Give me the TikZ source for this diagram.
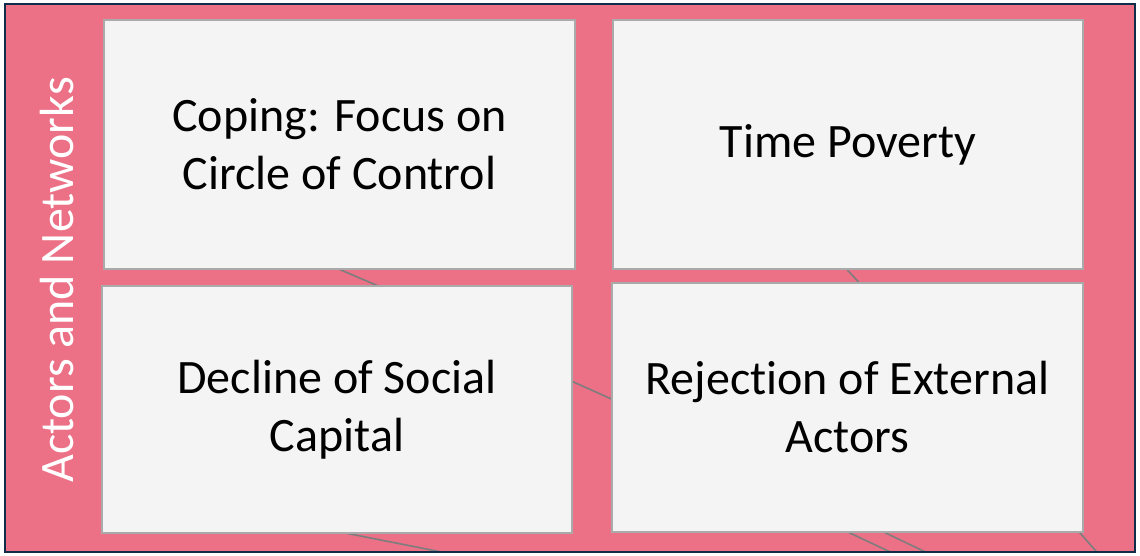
\documentclass[tikz,border=0pt]{standalone}
\usepackage{fontspec}
\setmainfont{Carlito}[Ligatures={NoCommon}]
\definecolor{pinkbg}{RGB}{236,112,134}
\definecolor{navy}{RGB}{16,44,72}
\definecolor{boxfill}{RGB}{244,244,244}
\definecolor{boxline}{RGB}{170,170,170}
\definecolor{linkgray}{RGB}{125,125,125}
\tikzset{
  card/.style={draw=boxline, line width=2pt, fill=boxfill, anchor=north west, align=center,
    inner sep=0pt, font=\fontsize{48}{58}\selectfont, text=black},
  link/.style={draw=linkgray, line width=1.6pt},
}
\begin{document}
\begin{tikzpicture}[x=1pt,y=-1pt]
\useasboundingbox (0,0) rectangle (1140,555);
\fill[pinkbg] (5,4) rectangle (1135,552);
% connector fragments behind the cards
\begin{scope}
\clip (5,4) rectangle (1135,552);
\coordinate (a1) at (320,261); \coordinate (a2) at (390,291);
\draw[link] (a1) -- (a2);
\coordinate (b1) at (560,376); \coordinate (b2) at (625,405);
\draw[link] (b1) -- (b2);
\coordinate (c1) at (330,530); \coordinate (c2) at (462,556);
\draw[link] (c1) -- (c2);
\coordinate (d1) at (835,526); \coordinate (d2) at (901,557);
\draw[link] (d1) -- (d2);
\coordinate (e1) at (871,526); \coordinate (e2) at (936,557);
\draw[link] (e1) -- (e2);
\coordinate (f1) at (1073,525); \coordinate (f2) at (1102,558);
\draw[link] (f1) -- (f2);
\coordinate (g1) at (840,262); \coordinate (g2) at (865,289);
\draw[link] (g1) -- (g2);
\end{scope}
\draw[navy, line width=2pt] (5,4) rectangle (1135,552);
% cards
\node[card, minimum width=471pt, minimum height=249pt] (tl) at (103,19)
  {Coping: Focus on\\Circle of Control};
\node[card, minimum width=470pt, minimum height=249pt] (tr) at (612,19)
  {\raisebox{-4pt}{Time Poverty}};
\node[card, minimum width=470pt, minimum height=247pt] (bl) at (101,285)
  {Decline of Social\\Capital};
\node[card, minimum width=471pt, minimum height=249pt] (br) at (611,282)
  {Rejection of External\\Actors};
\node[rotate=90, text=white, font=\fontsize{48}{58}\selectfont, inner sep=0pt] (lbl) at (57,280)
  {Actors and Networks};
\end{tikzpicture}
\end{document}
